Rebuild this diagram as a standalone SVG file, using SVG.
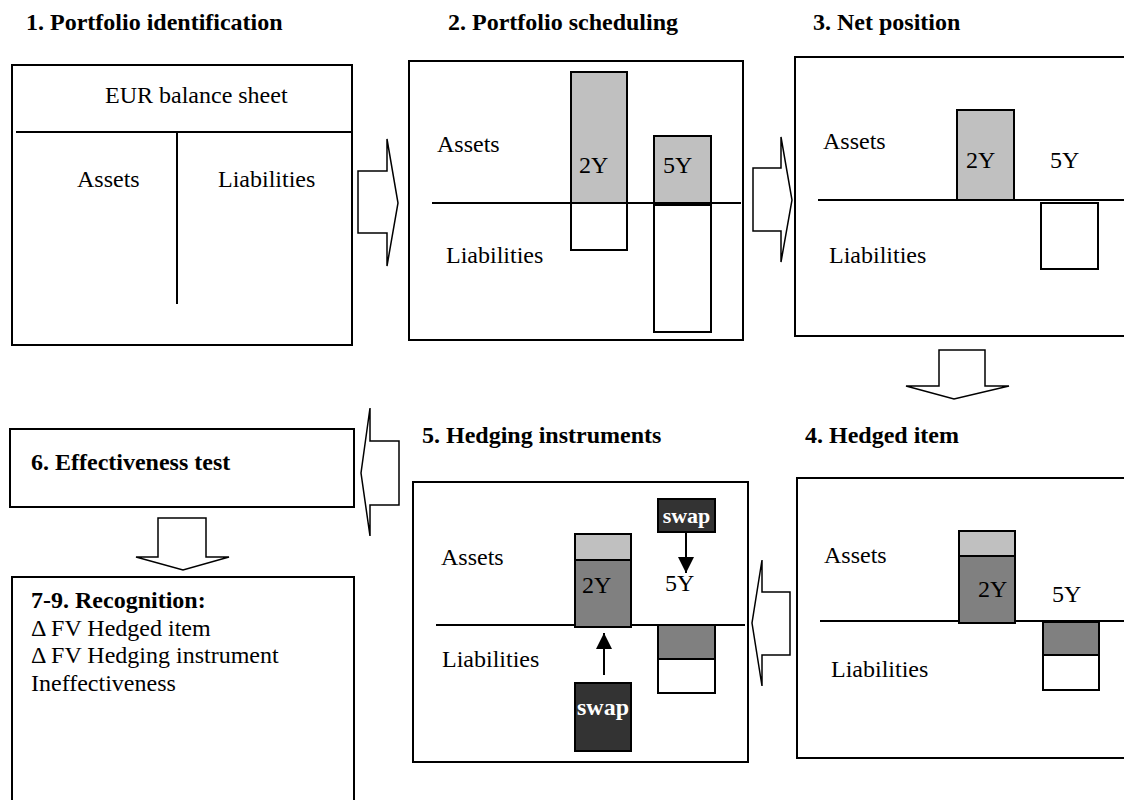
<svg xmlns="http://www.w3.org/2000/svg" width="1124" height="800" viewBox="0 0 1124 800">
  <style>
    text { font-family: "Liberation Serif", "Times New Roman", serif; font-size: 24px; fill: #000; }
    .title { font-weight: bold; }
    .swaptxt { font-weight: bold; font-size: 22px; fill: #fff; }
    .frame { fill: #fff; stroke: #000; stroke-width: 2; }
    .axis { stroke: #000; stroke-width: 2; fill: none; }
    .light { fill: #c0c0c0; stroke: #000; stroke-width: 2; }
    .dark { fill: #808080; stroke: #000; stroke-width: 2; }
    .empty { fill: #fff; stroke: #000; stroke-width: 2; }
    .swap { fill: #333; stroke: #000; stroke-width: 2; }
    .block { fill: #fff; stroke: #000; stroke-width: 1.5; stroke-linejoin: miter; }
    .pin { stroke: #000; stroke-width: 2; fill: none; }
  </style>
  <defs>
    <marker id="tipBig" viewBox="0 0 10 10" refX="10" refY="5" markerWidth="16" markerHeight="16" markerUnits="userSpaceOnUse" orient="auto">
      <path d="M0,0 L10,5 L0,10 Z" fill="#000"/>
    </marker>
  </defs>

  <rect width="1124" height="800" fill="#fff"/>

  <!-- step titles -->
  <g id="titles">
    <text class="title" x="26" y="30">1. Portfolio identification</text>
    <text class="title" x="448" y="30">2. Portfolio scheduling</text>
    <text class="title" x="813" y="30">3. Net position</text>
    <text class="title" x="805" y="443">4. Hedged item</text>
    <text class="title" x="422" y="443">5. Hedging instruments</text>
  </g>

  <!-- 1. EUR balance sheet (T-account) -->
  <g id="step1">
    <rect class="frame" x="12" y="65" width="340" height="280"/>
    <line class="axis" x1="16" y1="132" x2="352" y2="132"/>
    <line class="axis" x1="177" y1="132" x2="177" y2="304"/>
    <text x="105" y="103">EUR balance sheet</text>
    <text x="77" y="187">Assets</text>
    <text x="218" y="187">Liabilities</text>
  </g>

  <!-- 2. Scheduling by maturity -->
  <g id="step2">
    <rect class="frame" x="409" y="61" width="334" height="279"/>
    <rect class="light" x="571" y="72" width="56" height="131"/>
    <rect class="empty" x="571" y="203" width="56" height="47"/>
    <rect class="light" x="654" y="136" width="57" height="69"/>
    <rect class="empty" x="654" y="205" width="57" height="127"/>
    <line class="axis" x1="432" y1="203" x2="741" y2="203"/>
    <text x="437" y="152">Assets</text>
    <text x="446" y="263">Liabilities</text>
    <text x="579" y="173">2Y</text>
    <text x="663" y="173">5Y</text>
  </g>

  <!-- 3. Net position per bucket -->
  <g id="step3">
    <rect class="frame" x="795" y="57" width="340" height="279"/>
    <line class="axis" x1="818" y1="200" x2="1124" y2="200"/>
    <rect class="light" x="957" y="110" width="57" height="90"/>
    <rect class="empty" x="1041" y="203" width="57" height="66"/>
    <text x="823" y="149">Assets</text>
    <text x="829" y="263">Liabilities</text>
    <text x="966" y="168">2Y</text>
    <text x="1050" y="168">5Y</text>
  </g>

  <!-- 4. Designated hedged item -->
  <g id="step4">
    <rect class="frame" x="797" y="478" width="340" height="280"/>
    <line class="axis" x1="820" y1="621" x2="1124" y2="621"/>
    <rect class="light" x="959" y="531" width="56" height="25"/>
    <rect class="dark" x="959" y="556" width="56" height="67"/>
    <rect class="dark" x="1043" y="622" width="56" height="33"/>
    <rect class="empty" x="1043" y="655" width="56" height="35"/>
    <text x="824" y="563">Assets</text>
    <text x="831" y="677">Liabilities</text>
    <text x="978" y="597">2Y</text>
    <text x="1052" y="602">5Y</text>
  </g>

  <!-- 5. Swaps as hedging instruments -->
  <g id="step5">
    <rect class="frame" x="413" y="482" width="335" height="280"/>
    <line class="axis" x1="436" y1="625" x2="745" y2="625"/>
    <rect class="light" x="575" y="534" width="56" height="26"/>
    <rect class="dark" x="575" y="560" width="56" height="67"/>
    <rect class="dark" x="658" y="625" width="57" height="34"/>
    <rect class="empty" x="658" y="659" width="57" height="34"/>
    <text x="441" y="565">Assets</text>
    <text x="442" y="667">Liabilities</text>
    <text x="582" y="593">2Y</text>
    <text x="665" y="591">5Y</text>
    <g id="swap-5y">
      <rect class="swap" x="658" y="499" width="57" height="33"/>
      <text class="swaptxt" x="686.5" y="523" text-anchor="middle">swap</text>
      <line class="pin" x1="686" y1="533" x2="686" y2="573" marker-end="url(#tipBig)"/>
    </g>
    <g id="swap-2y">
      <rect class="swap" x="575" y="683" width="56" height="68"/>
      <text class="swaptxt" x="603" y="715" text-anchor="middle" style="font-size:24px">swap</text>
      <line class="pin" x1="604" y1="675" x2="604" y2="633" marker-end="url(#tipBig)"/>
    </g>
  </g>

  <!-- 6. Effectiveness test -->
  <g id="step6">
    <rect class="frame" x="10" y="429" width="344" height="78"/>
    <text class="title" x="31" y="470">6. Effectiveness test</text>
  </g>

  <!-- 7-9. Recognition -->
  <g id="step7">
    <rect class="frame" x="12" y="577" width="342" height="240"/>
    <text class="title" x="31" y="608">7-9. Recognition:</text>
    <text x="31" y="636">Δ FV Hedged item</text>
    <text x="31" y="663">Δ FV Hedging instrument</text>
    <text x="31" y="691">Ineffectiveness</text>
  </g>

  <!-- block arrows between the steps -->
  <g id="connectors">
    <path class="block" d="M358,171 H387 V139 L398,203 L387,266 V233 H358 Z"/>
    <path class="block" d="M753,168 H781 V137 L792,200 L781,262 V231 H753 Z"/>
    <path class="block" d="M939,350 H985 V386 H1009 L954,399 L906,386 H939 Z"/>
    <path class="block" d="M790,592 H762 V560 L752,623 L762,686 V655 H790 Z"/>
    <path class="block" d="M399,441 H370 V408 L361,473 L370,536 V505 H399 Z"/>
    <path class="block" d="M158,518 H206 V557 H229 L183,570 L136,557 H158 Z"/>
  </g>
</svg>
